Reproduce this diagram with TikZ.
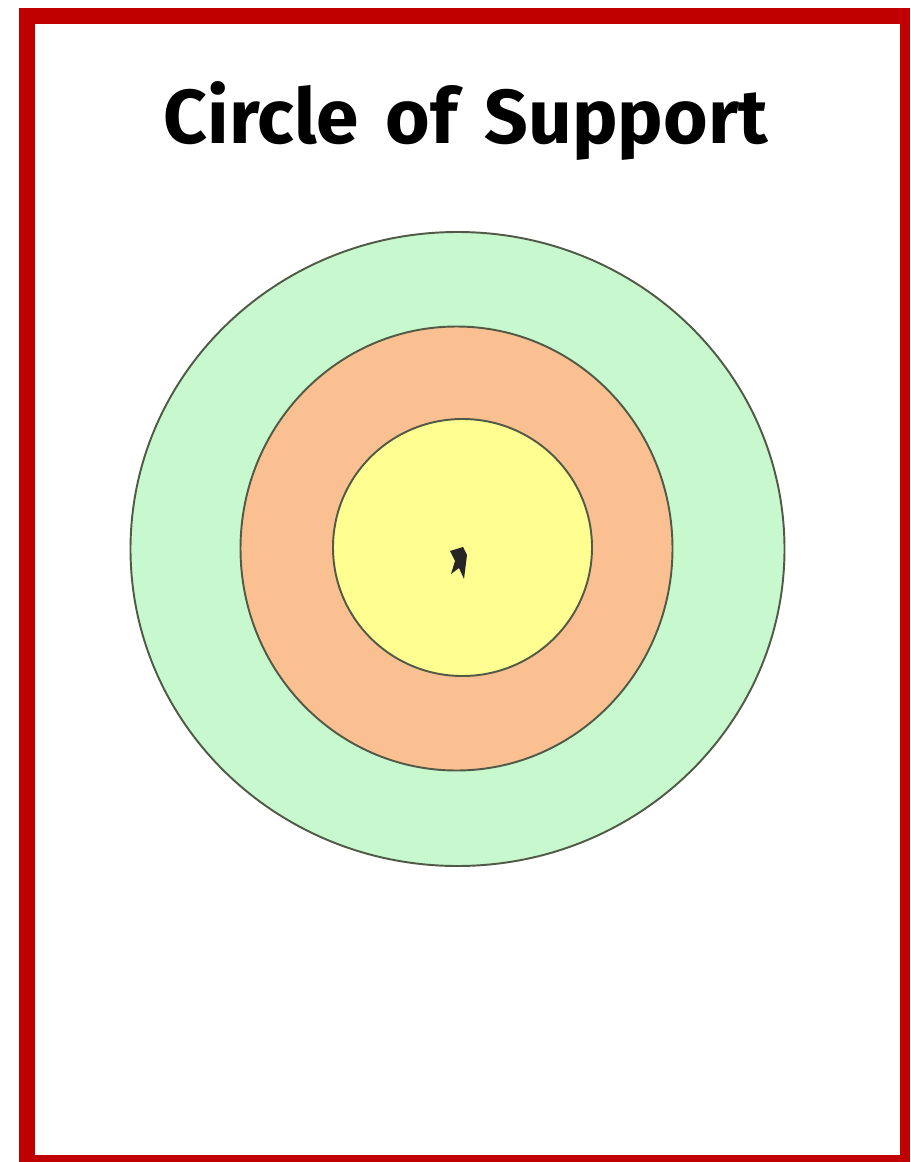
\documentclass[tikz,border=0pt]{standalone}
\usepackage{fontspec}
\setmainfont{Fira Sans}
\definecolor{framered}{RGB}{192,0,0}
\definecolor{ringgreen}{RGB}{200,248,205}
\definecolor{ringorange}{RGB}{250,192,145}
\definecolor{ringyellow}{RGB}{255,255,145}
\definecolor{ringline}{RGB}{80,90,70}
\tikzset{ring/.style={draw=ringline, line width=1.1pt}}
\begin{document}
\begin{tikzpicture}[x=0.02cm,y=-0.02cm]
\useasboundingbox (0,0) rectangle (910,1162);
\fill[white] (0,0) rectangle (910,1162);
% frame
\fill[framered] (19,8) rectangle (910,1162);
\fill[white] (35,24) rectangle (900,1155);
% title
\node[font=\bfseries, inner sep=0] (title) at (466,121) {\resizebox{12.1cm}{!}{Circle\hspace{0.12em} of\hspace{0.12em} Support}};
% rings
\draw[ring, fill=ringgreen] (457.5,549) ellipse [x radius=327, y radius=317];
\draw[ring, fill=ringorange] (456.5,548.5) ellipse [x radius=216, y radius=222];
\draw[ring, fill=ringyellow] (462.5,547.5) ellipse [x radius=129.5, y radius=128.5];
% centre mark
\fill[black!85] (450,551) -- (463,547) -- (467,555) -- (464,579) -- (459,568) -- (451,574) -- (455,561) -- cycle;
\end{tikzpicture}
\end{document}
